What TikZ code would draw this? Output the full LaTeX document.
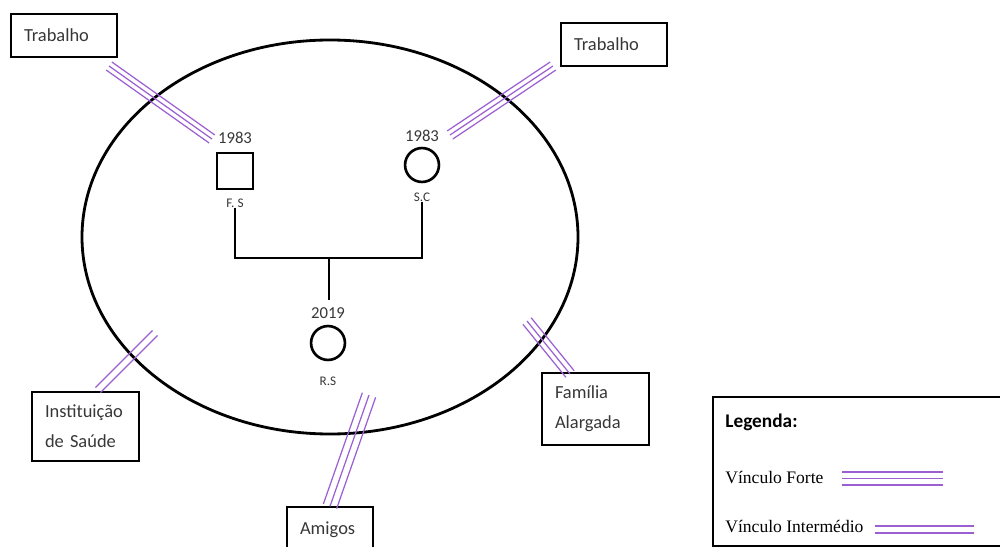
\documentclass[tikz,border=0pt]{standalone}
\usepackage{fontspec}
\setmainfont{Carlito}
\newfontfamily\legfont{Liberation Serif}
\usetikzlibrary{positioning,calc}
\definecolor{roxo}{RGB}{155,95,210}
\definecolor{texto}{RGB}{55,55,55}

\newcommand{\vinculo}[3]{\foreach \o in {#3} \draw[vinc] ($(#1)!\o pt!90:(#2)$) -- ($(#2)!\o pt!-90:(#1)$);}

\tikzset{
  caixa/.style={draw, line width=0.8pt, inner xsep=7.4pt, align=left, font=\fontsize{10.5}{17}\selectfont, text=texto},
  vinc/.style={draw=roxo, line width=0.7pt},
  homem/.style={draw, line width=1.5pt, minimum size=20.5pt, inner sep=0pt},
  mulher/.style={draw, circle, line width=1.5pt, minimum size=19.3pt, inner sep=0pt},
  ano/.style={inner sep=0pt, font=\fontsize{9.5}{10}\selectfont, text=texto},
  sigla/.style={inner sep=0pt, font=\fontsize{7.5}{8}\selectfont, text=texto},
  geno/.style={line width=1.5pt},
  legtexto/.style={anchor=west, inner sep=0pt, font=\legfont\fontsize{10}{12}\selectfont},
}

\begin{document}
\begin{tikzpicture}[x=0.02cm, y=-0.02cm]
\useasboundingbox (0,0) rectangle (1000,547);
\clip (0,0) rectangle (1000,547);

\draw[line width=1.6pt] (330,237) ellipse [x radius=248, y radius=197];

\node[caixa, text width=45.5pt, minimum height=24.5pt] (trabE) at (64,35.5) {Trabalho};
\node[caixa, text width=45.5pt, minimum height=24.5pt] (trabD) at (614,44.5) {Trabalho};
\node[caixa, text width=46.1pt, minimum height=39.3pt] (inst) at (85.5,426.5) {Instituição\\de Saúde};
\node[caixa, text width=46.1pt, minimum height=41pt] (fam) at (595.5,409) {Família\\Alargada};
\node[caixa, text width=34.1pt, minimum height=25.6pt] (amigos) at (330,529.5) {Amigos};

\node[homem] (fs) at (235,171) {};
\node[ano, above=4.5pt of fs] (fsAno) {1983};
\node[sigla, below=4.5pt of fs] (fsNome) {F. S};
\node[mulher] (sc) at (422,165) {};
\node[ano, above=2.5pt of sc] (scAno) {1983};
\node[sigla, below=5.5pt of sc] (scNome) {S.C};
\node[mulher] (rs) at (328,343) {};
\node[ano, above=3.5pt of rs] (rsAno) {2019};
\node[sigla, below=8.5pt of rs] (rsNome) {R.S};

\coordinate (uniao) at (329,258);
\coordinate (filho) at (329,300);
\draw[geno] (fsNome.south) |- (uniao) -| (scNome.south);
\draw[geno] (uniao) -- (filho);

\coordinate (v1a) at (109,66);
\coordinate (v1b) at (212,139);
\coordinate (v2a) at (553,66);
\coordinate (v2b) at (450,135);
\coordinate (v3a) at (369,395);
\coordinate (v4a) at (155,333);
\coordinate (v4b) at (98,390);
\coordinate (v5a) at (527,321);
\coordinate (v5b) at (570,374);
\vinculo{v1a}{v1b}{-2.8,0,2.8}
\vinculo{v2a}{v2b}{-2.8,0,2.8}
\vinculo{v3a}{amigos.north}{-4,0,4}
\vinculo{v4a}{v4b}{-2,2}
\vinculo{v5a}{v5b}{-3,0,3}

\node[draw, line width=0.8pt, minimum width=169pt, minimum height=84.8pt, inner sep=0pt] (legenda) at (861.5,471.5) {};
\node[anchor=west, inner sep=0pt, font=\bfseries\fontsize{11}{13}\selectfont] (legTit) at (725,422) {Legenda:};
\node[legtexto] (legForte) at (725,478) {Vínculo Forte};
\node[legtexto] (legInter) at (725,527) {Vínculo Intermédio};
\coordinate (lf1) at (842,478.5);
\coordinate (lf2) at (943,478.5);
\coordinate (li1) at (875,529.5);
\coordinate (li2) at (974,529.5);
\begin{scope}[vinc/.append style={line width=1.1pt}]
\vinculo{lf1}{lf2}{-3.6,0,3.6}
\vinculo{li1}{li2}{-2,2}
\end{scope}
\end{tikzpicture}
\end{document}
